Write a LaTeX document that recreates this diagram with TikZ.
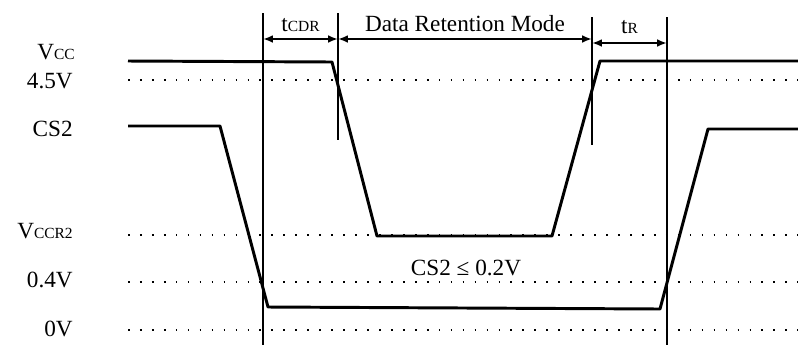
\documentclass[tikz,border=0pt]{standalone}
\usepackage{fontspec}
\setmainfont{Liberation Serif}
\usetikzlibrary{arrows.meta}

\newcommand{\subsz}[1]{{\fontsize{11}{13}\selectfont #1}}

\begin{document}
\begin{tikzpicture}[x=0.025cm, y=-0.025cm,
    lbl/.style={anchor=east, inner sep=0pt,
                font=\fontsize{16.5}{19}\selectfont},
    txt/.style={inner sep=0pt, anchor=base,
                font=\fontsize{16.5}{19}\selectfont},
    wave/.style={line width=2.1pt, line join=round},
    tline/.style={line width=1.4pt},
    lvl/.style={line width=0.9pt, dash pattern=on 1.2pt off 7.3pt},
    dim/.style={{Latex[length=7pt,width=5.5pt]}-{Latex[length=7pt,width=5.5pt]},
                line width=1.4pt},
]
\useasboundingbox (0,0) rectangle (798,345);

% --- Level labels ---
\node[lbl] (lvcc) at (75, 52) {V\subsz{CC}};
\node[lbl] (l45) at (73, 81) {4.5V};
\node[lbl] (lcs) at (73, 129) {CS2};
\node[lbl] (lvccr) at (73, 231) {V\subsz{CCR2}};
\node[lbl] (l04) at (73, 280) {0.4V};
\node[lbl] (l0) at (73, 329) {0V};

% --- Dotted levels ---
\draw[lvl] (128, 80) -- (798, 80);
\draw[lvl] (128, 235) -- (798, 235);
\draw[lvl] (128, 282) -- (798, 282);
\draw[lvl] (128, 330) -- (798, 330);

% --- Timing lines ---
\coordinate (v1t) at (263, 13);  \coordinate (v1b) at (263, 345);
\coordinate (v2t) at (338, 13);  \coordinate (v2b) at (338, 140);
\coordinate (v3t) at (592, 17);  \coordinate (v3b) at (592, 145);
\coordinate (v4t) at (667, 17);  \coordinate (v4b) at (667, 345);
\draw[tline] (v1t) -- (v1b);
\draw[tline] (v2t) -- (v2b);
\draw[tline] (v3t) -- (v3b);
\draw[tline] (v4t) -- (v4b);

% --- Vcc ---
\coordinate (vcc0) at (128, 61);
\coordinate (vcc1) at (332, 62);
\coordinate (vcc2) at (377, 236);
\coordinate (vcc3) at (552, 236);
\coordinate (vcc4) at (600, 61);
\coordinate (vcc5) at (798, 61);
\draw[wave] (vcc0) -- (vcc1) -- (vcc2) -- (vcc3) -- (vcc4) -- (vcc5);

% --- CS2 ---
\coordinate (cs0) at (128, 126);
\coordinate (cs1) at (220, 126);
\coordinate (cs2) at (268, 307);
\coordinate (cs3) at (660, 309);
\coordinate (cs4) at (708, 129);
\coordinate (cs5) at (798, 129);
\draw[wave] (cs0) -- (cs1) -- (cs2) -- (cs3) -- (cs4) -- (cs5);

% --- Intervals ---
\coordinate (a1) at (263, 39);
\coordinate (a2) at (338, 39);
\coordinate (a3) at (592, 39);
\coordinate (b3) at (592, 43);
\coordinate (b4) at (667, 43);
\draw[dim] (a1) -- (a2)
    node[txt, midway, yshift=5pt] (tcdr) {t\subsz{CDR}};
\draw[dim] (a2) -- (a3)
    node[txt, midway, yshift=5.5pt] (drm) {Data Retention Mode};
\draw[dim] (b3) -- (b4)
    node[txt, midway, yshift=6.5pt] (tr) {t\subsz{R}};

% --- Condition ---
\node[txt, anchor=center] (cond) at (466, 268) {CS2 ≤ 0.2V};
\end{tikzpicture}
\end{document}
